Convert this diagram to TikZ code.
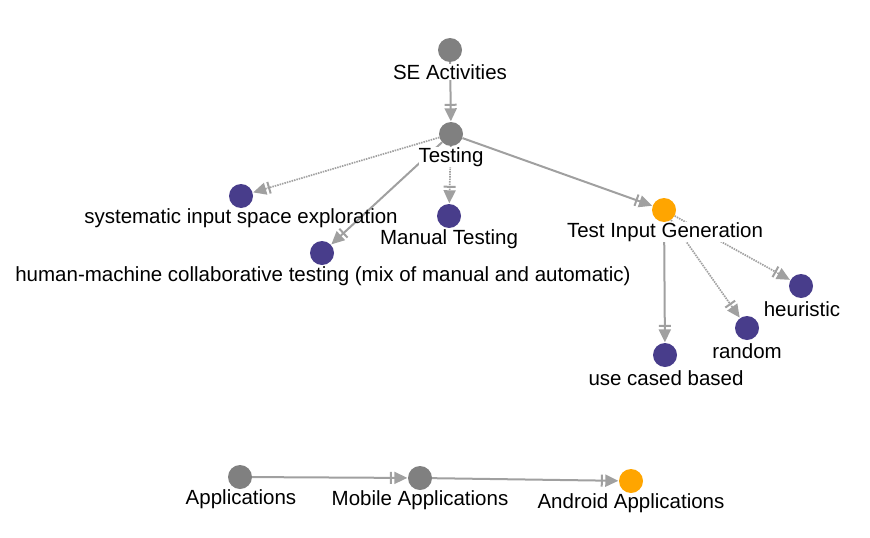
\documentclass[tikz,border=0pt]{standalone}
\usepackage{fontspec}
\setmainfont{Liberation Sans}
\usetikzlibrary{arrows.meta}
\definecolor{ngray}{HTML}{808080}
\definecolor{npurple}{HTML}{483D8B}
\definecolor{norange}{HTML}{FFA500}
\definecolor{egray}{HTML}{A0A0A0}
\tikzset{
  dot/.style={circle, minimum size=24pt, inner sep=0pt, draw=none},
  grayd/.style={dot, fill=ngray},
  purpled/.style={dot, fill=npurple},
  oranged/.style={dot, fill=norange},
  lbl/.style={font=\fontsize{20.5pt}{22pt}\selectfont, text=black, inner sep=0pt},
  hidelbl/.style={lbl, fill=white},
  edge/.style={draw=egray, line width=2pt, shorten >=0.5pt,
    -{Bar[width=12pt,line width=2pt,sep=2.5pt] Triangle[length=13pt,width=12pt]}},
  dotedge/.style={edge, line width=1.7pt, dash pattern=on 1.5pt off 1pt},
}
\begin{document}
\begin{tikzpicture}[x=1pt,y=-1pt]
\useasboundingbox (0,0) rectangle (870,538);
% circles
\node[grayd] (se) at (450,50) {};
\node[grayd] (te) at (451,134) {};
\node[purpled] (sy) at (241,196) {};
\node[purpled] (ma) at (449,216) {};
\node[purpled] (hm) at (322,253) {};
\node[oranged] (tig) at (664,210) {};
\node[purpled] (he) at (801,286) {};
\node[purpled] (ra) at (747,328) {};
\node[purpled] (uc) at (665,355) {};
\node[grayd] (ap) at (240,477) {};
\node[grayd] (mo) at (420,478) {};
\node[oranged] (an) at (631,481) {};
% edges
\draw[edge] (se) -- (te);
\draw[dotedge] (te) -- (sy);
\draw[dotedge] (te) -- (ma);
\draw[edge] (te) -- (hm);
\draw[edge] (te) -- (tig);
\draw[edge] (tig) -- (uc);
\draw[dotedge] (tig) -- (ra);
\draw[dotedge] (tig) -- (he);
\draw[edge] (ap) -- (mo);
\draw[edge] (mo) -- (an);
% labels
\node[hidelbl] (seL) at (450,72) {SE Activities};
\node[hidelbl] (teL) at (451,157) {Testing};
\node[lbl] (syL) at (241,218) {systematic input space exploration};
\node[hidelbl] (maL) at (449,239) {Manual Testing};
\node[lbl] (hmL) at (323,276) {human-machine collaborative testing (mix of manual and automatic)};
\node[hidelbl] (tigL) at (665,232) {Test Input Generation};
\node[lbl] (heL) at (802,309) {heuristic};
\node[lbl] (raL) at (747,351) {random};
\node[lbl] (ucL) at (666,378) {use cased based};
\node[lbl] (apL) at (241,499) {Applications};
\node[lbl] (moL) at (420,500) {Mobile Applications};
\node[lbl] (anL) at (631,503) {Android Applications};
\end{tikzpicture}
\end{document}
